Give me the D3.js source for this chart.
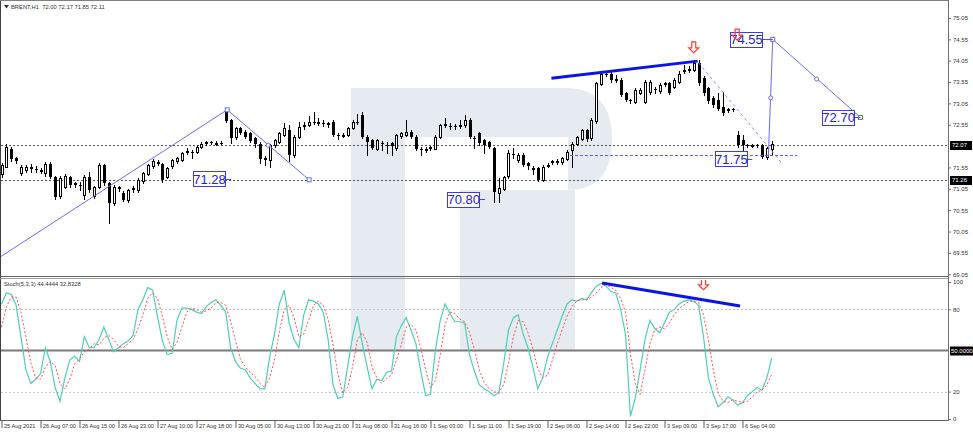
<!DOCTYPE html>
<html><head><meta charset="utf-8">
<script src="https://cdn.jsdelivr.net/npm/d3@7"></script>
<style>
html,body{margin:0;padding:0;background:#fff;}
svg{display:block;font-family:"Liberation Sans",Arial,sans-serif;}
</style>
</head><body>
<svg id="c" width="973" height="436"></svg>
<script>
// ---------- DATA ----------
const symbolTitle = "BRENT,H1  72.00 72.17 71.85 72.11";
const stochTitle = "Stoch(5,3,3) 44.4444 32.8328";
const opens = [71.40,71.58,71.98,71.76,71.42,71.49,71.53,71.52,71.50,71.40,
71.64,71.33,70.87,71.10,71.32,71.16,71.15,70.90,71.33,70.88,
71.10,71.61,71.18,70.72,71.07,70.95,70.79,71.04,71.02,71.22,
71.41,71.57,71.66,71.63,71.33,71.57,71.70,71.72,71.90,71.91,
71.92,72.04,72.13,72.14,72.12,72.13,72.86,72.66,72.27,72.47,
72.39,72.35,72.23,72.11,71.76,71.72,72.08,72.15,72.31,72.43,
71.84,72.27,72.52,72.55,72.62,72.60,72.60,72.56,72.62,72.32,
72.31,72.31,72.47,72.61,72.78,72.27,72.19,71.98,72.12,72.08,
72.12,72.00,72.27,72.31,72.39,72.27,71.98,71.97,72.04,72.00,
72.27,72.55,72.52,72.51,72.53,72.54,72.66,72.24,72.35,72.19,
72.15,72.00,70.94,71.06,71.33,71.86,71.72,71.84,71.65,71.53,
71.53,71.26,71.58,71.66,71.70,71.66,71.76,71.96,72.11,72.23,
72.43,72.23,72.62,73.52,73.75,73.75,73.60,73.60,73.29,73.12,
73.09,73.29,73.09,73.33,73.38,73.33,73.52,73.52,73.44,73.56,
73.80,73.83,73.83,73.99,73.64,73.40,73.17,73.13,72.97,72.88,
72.91,72.31,72.19,72.07,72.06,72.07,72.07,71.80,72.00];
const highs = [71.66,72.10,72.02,71.80,71.60,71.60,71.62,71.58,71.54,71.68,
71.68,71.36,71.34,71.40,71.36,71.22,71.20,71.37,71.45,71.12,
71.66,71.64,71.22,71.14,71.12,71.00,71.04,71.12,71.30,71.44,
71.64,71.74,71.72,71.66,71.56,71.75,71.80,71.92,72.00,71.96,
72.08,72.14,72.18,72.17,72.16,72.16,72.90,72.68,72.50,72.50,
72.42,72.38,72.26,72.14,71.82,72.10,72.22,72.38,72.60,72.55,
72.30,72.62,72.62,72.75,72.86,72.70,72.66,72.62,72.66,72.36,
72.36,72.50,72.66,72.80,72.85,72.30,72.22,72.22,72.16,72.15,
72.14,72.34,72.38,72.65,72.42,72.30,72.02,72.02,72.06,72.30,
72.57,72.70,72.58,72.56,72.65,72.78,72.70,72.28,72.38,72.22,
72.18,72.04,71.30,71.36,71.95,72.00,71.88,71.88,71.68,71.58,
71.56,71.60,71.66,71.72,71.74,71.80,71.96,72.14,72.29,72.45,
72.46,72.70,73.56,73.80,73.80,73.79,73.72,73.64,73.32,73.16,
73.40,73.40,73.60,73.60,73.44,73.52,73.56,73.56,73.64,73.80,
73.95,73.92,74.07,74.07,73.68,73.44,73.22,73.30,73.32,72.95,
72.94,72.40,72.30,72.10,72.09,72.09,72.10,72.02,72.17];
const lows = [71.33,71.55,71.70,71.66,71.38,71.45,71.45,71.45,71.42,71.36,
71.30,70.82,70.84,71.06,71.10,71.10,71.02,70.80,70.98,70.84,
71.06,71.15,70.24,70.68,71.00,70.76,70.75,70.98,70.98,71.18,
71.38,71.54,71.60,71.22,71.30,71.54,71.66,71.70,71.86,71.76,
71.90,72.00,72.08,72.10,72.08,72.10,72.62,72.12,72.22,72.34,
72.24,72.14,72.04,71.66,71.60,71.55,72.04,72.12,72.28,71.70,
71.80,72.24,72.46,72.52,72.56,72.55,72.52,72.50,72.28,72.22,
72.26,72.28,72.44,72.56,72.24,71.84,71.98,71.95,71.95,71.90,
71.84,71.97,72.24,72.28,72.24,71.96,71.85,71.92,71.96,71.98,
72.24,72.50,72.45,72.46,72.48,72.50,72.24,72.00,72.08,71.90,
72.00,70.75,70.75,71.02,71.30,71.78,71.68,71.58,71.52,71.40,
71.24,71.24,71.55,71.62,71.62,71.62,71.72,71.55,72.08,72.20,
72.18,72.20,72.58,73.48,73.68,73.56,73.55,73.22,73.10,73.06,
73.06,73.26,73.05,73.28,73.30,73.30,73.45,73.26,73.40,73.53,
73.76,73.78,73.80,73.48,73.25,73.05,72.97,72.90,72.78,72.85,
72.88,72.04,71.85,72.04,72.03,72.02,71.78,71.75,71.85];
const closes = [71.61,72.04,71.74,71.70,71.57,71.57,71.55,71.50,71.46,71.62,
71.33,70.86,71.30,71.36,71.14,71.18,71.12,71.33,71.02,71.10,
71.61,71.18,70.71,71.10,71.10,70.79,71.02,71.07,71.26,71.41,
71.61,71.69,71.68,71.26,71.53,71.72,71.76,71.88,71.93,71.89,
72.04,72.11,72.14,72.12,72.13,72.12,72.66,72.23,72.47,72.36,
72.27,72.16,72.08,71.76,71.78,72.08,72.19,72.35,72.47,71.84,
72.27,72.50,72.55,72.62,72.60,72.61,72.57,72.58,72.31,72.30,
72.32,72.47,72.62,72.60,72.27,72.15,72.00,72.19,72.10,72.06,
72.04,72.31,72.35,72.39,72.27,72.00,71.97,71.98,72.00,72.27,
72.54,72.56,72.50,72.50,72.55,72.66,72.27,72.23,72.11,72.08,
72.04,70.98,71.06,71.33,71.88,71.84,71.84,71.61,71.57,71.49,
71.26,71.57,71.61,71.69,71.66,71.76,71.92,72.11,72.27,72.43,
72.23,72.66,73.52,73.75,73.74,73.60,73.61,73.25,73.13,73.09,
73.36,73.36,73.56,73.56,73.36,73.48,73.48,73.29,73.60,73.75,
73.83,73.86,73.99,73.52,73.29,73.09,73.01,72.93,72.82,72.91,
72.90,72.07,72.07,72.06,72.07,72.05,71.80,72.00,72.11];
const stochK = [84,92,91,83,60,36,26,29,33,52,
42,23,13,30,43,46,42,60,52,52,
58,67,58,49,52,55,57,61,80,87,
96,94,75,57,47,48,72,81,81,80,
78,77,82,85,87,83,78,52,42,37,
36,30,26,22,22,45,62,84,94,70,
58,52,76,87,86,84,78,58,25,15,
16,38,60,75,55,38,22,29,28,34,
35,60,68,74,65,55,35,17,18,50,
72,84,77,71,71,70,47,35,25,22,
20,17,19,40,65,74,76,62,52,38,
22,30,45,55,65,75,84,87,86,88,
87,92,97,99,97,93,92,80,62,2,
15,36,58,72,66,63,70,78,80,84,
86,87,86,83,60,30,18,9,12,16,
14,10,12,17,20,23,21,30,44.4444];
const stochD = [67,82,89,89,78,60,41,30,29,38,
42,39,26,22,29,40,44,49,51,55,
54,59,61,58,53,52,55,58,66,76,
88,92,88,75,60,51,56,67,78,81,
80,78,79,81,85,85,83,71,57,44,
38,34,31,26,23,30,43,64,80,83,
74,60,62,72,83,86,83,73,54,33,
19,23,38,58,63,56,38,30,26,30,
32,43,54,67,69,65,52,36,23,28,
47,69,78,77,73,71,63,51,36,27,
22,20,19,25,41,60,72,71,63,51,
37,30,32,43,55,65,75,82,86,87,
87,89,92,96,98,96,94,88,78,48,
26,18,36,55,65,67,66,70,76,81,
83,86,86,85,76,58,36,19,13,12,
14,13,12,13,16,20,21,25,32.8328];
const timeLabels = ["25 Aug 2021","26 Aug 07:00","26 Aug 15:00","26 Aug 23:00","27 Aug 10:00","27 Aug 18:00",
"30 Aug 05:00","30 Aug 13:00","30 Aug 21:00","31 Aug 08:00","31 Aug 16:00","1 Sep 03:00","1 Sep 11:00",
"1 Sep 19:00","2 Sep 06:00","2 Sep 14:00","2 Sep 22:00","3 Sep 09:00","3 Sep 17:00","6 Sep 04:00"];
const labelBars = [0,8,16,24,32,40,48,56,64,72,80,88,96,104,112,120,128,136,144,152];
const priceTicks = [75.05,74.55,74.05,73.55,73.05,72.55,71.55,71.05,70.55,70.05,69.55,69.05];
const markedPrices = [72.07, 71.26];
const stochTicks = [100,80,20,0];
const stochLevels = [80,20];
// analysis drawings (bar index, price)
const waveA = [[-1,69.40],[46.3,72.90],[54.7,72.07],[63.1,71.26]];
const waveB = [[157.3,71.80],[157.8,73.18],[158.2,74.55],[167.2,73.62],[176.2,72.72]];
const trendPrice = [[112.8,73.64],[142.8,74.04]];
const trendStoch = [[123.2,99.3],[151.5,82.5]];
const dottedSlope = [[143,74.00],[160,71.66]];
const levelLine = {from:116.6, to:163.2, price:71.84};
// label boxes: right edge at bar, centred on price, tick runs to pixel column
const boxLabels = [
  {text:"71.28", bar:45.85, price:71.28, tickBar:47.1},
  {text:"70.80", bar:98.0, price:70.81, tickBar:99.2},
  {text:"71.75", bar:152.9, price:71.75, tickBar:154.0},
  {text:"74.55", bar:156.0, price:74.55, tickBar:158.2},
  {text:"72.70", bar:174.9, price:72.72, tickBar:176.2}
];
const priceArrows = [[142,74.35],[150.9,74.65]];
const stochArrows = [[144,98]];

// ---------- SCALES ----------
const svg = d3.select("#c");
const RIGHT = 948;
const x = d3.scaleLinear().domain([0,158]).range([1.5, 1.5+158*4.875]);
const y = d3.scaleLinear().domain([69.05,75.05]).range([274.2,18]);
const ys = d3.scaleLinear().domain([0,100]).range([419,282]);

const defs = svg.append("defs");
defs.append("clipPath").attr("id","cp").append("rect").attr("x",1).attr("y",1).attr("width",RIGHT-1).attr("height",275);
defs.append("clipPath").attr("id","cs").append("rect").attr("x",1).attr("y",280).attr("width",RIGHT-1).attr("height",140);
defs.append("clipPath").attr("id","call").append("rect").attr("x",1).attr("y",1).attr("width",RIGHT-1).attr("height",419);

// ---------- WATERMARK ----------
const wm = svg.append("g").attr("clip-path","url(#call)").attr("fill","#e6ebf2");
wm.append("rect").attr("x",351).attr("y",88).attr("width",54).attr("height",262);
wm.append("path").attr("fill-rule","evenodd")
  .attr("d","M405,88 H565 Q612,88 612,139 Q612,190 568,190 H405 Z M405,137 H568 V190 H405 Z");
wm.append("rect").attr("x",460).attr("y",190).attr("width",115).attr("height",160);

// ---------- GRID / LEVELS ----------
const gp = svg.append("g").attr("clip-path","url(#cp)");
gp.selectAll("line.lvl").data(markedPrices).join("line")
  .attr("x1",1).attr("x2",RIGHT).attr("y1",d=>Math.round(y(d))+0.5).attr("y2",d=>Math.round(y(d))+0.5)
  .attr("stroke","#555").attr("stroke-dasharray","2,2");

// ---------- CANDLES ----------
const idx = d3.range(opens.length);
const cx = i => Math.round(x(i));
gp.selectAll("line.wick").data(idx).join("line")
  .attr("x1",i=>cx(i)+0.5).attr("x2",i=>cx(i)+0.5)
  .attr("y1",i=>Math.round(y(highs[i]))).attr("y2",i=>Math.round(y(lows[i]))+1)
  .attr("stroke","#000");
gp.selectAll("rect.body").data(idx).join("rect")
  .attr("x",i=> closes[i]>=opens[i] ? cx(i)-0.5 : cx(i)-1)
  .attr("width",i=> closes[i]>=opens[i] ? 2 : 3)
  .attr("y",i=>{const t=Math.round(y(Math.max(opens[i],closes[i]))); return closes[i]>=opens[i]? t+0.5 : t;})
  .attr("height",i=>Math.max(1,Math.round(Math.abs(y(opens[i])-y(closes[i])))))
  .attr("fill",i=> closes[i]>=opens[i] ? "#fff" : "#000")
  .attr("stroke",i=> closes[i]>=opens[i] ? "#000" : "none");

// ---------- ANALYSIS DRAWINGS (price) ----------
const line = d3.line().x(d=>x(d[0])).y(d=>y(d[1]));
const waveCol = "#6b6bf5";
gp.append("path").attr("d",line([waveA[0],waveA[1],waveA[3]])).attr("fill","none").attr("stroke",waveCol);
gp.append("path").attr("d",line([waveB[0],waveB[2],waveB[4]])).attr("fill","none").attr("stroke",waveCol);
function sq(p){ gp.append("rect").attr("x",x(p[0])-2).attr("y",y(p[1])-2).attr("width",4).attr("height",4).attr("fill","#fff").attr("stroke",waveCol);}
function circ(p){ gp.append("circle").attr("cx",x(p[0])).attr("cy",y(p[1])).attr("r",2).attr("fill","#fff").attr("stroke",waveCol);}
sq(waveA[1]); circ(waveA[2]); sq(waveA[3]);
circ(waveB[1]); sq(waveB[2]); circ(waveB[3]); sq(waveB[4]);

gp.append("path").attr("d",line(dottedSlope)).attr("stroke","#8a8af5").attr("stroke-dasharray","3,3").attr("fill","none");
gp.append("line").attr("x1",x(levelLine.from)).attr("x2",x(levelLine.to))
  .attr("y1",Math.round(y(levelLine.price))+0.5).attr("y2",Math.round(y(levelLine.price))+0.5)
  .attr("stroke","#5b5bf0").attr("stroke-dasharray","3,2");
gp.append("path").attr("d",line(trendPrice)).attr("stroke","#0a14e6").attr("stroke-width",3).attr("fill","none");

boxLabels.forEach(b=>{
  const bx = x(b.bar), by = y(b.price);
  const w = 32, h = 15;
  gp.append("line").attr("x1",bx).attr("x2",x(b.tickBar)).attr("y1",Math.round(by)+0.5).attr("y2",Math.round(by)+0.5).attr("stroke","#4a4af0");
  gp.append("rect").attr("x",Math.round(bx-w)+0.5).attr("y",Math.round(by-h/2)+0.5).attr("width",w).attr("height",h)
    .attr("fill","#fff").attr("stroke","#3a3af5");
  gp.append("text").attr("x",bx-w/2+0.5).attr("y",by+4.8).attr("text-anchor","middle")
    .attr("font-size",13).attr("fill","#2020f0").text(b.text);
});

function arrow(g, px, py){
  const p = `M${px-2},${py-6} h4 v6 h3 l-5,5 l-5,-5 h3 Z`;
  g.append("path").attr("d",p).attr("fill","none").attr("stroke","#ff3b2f").attr("stroke-width",1.2);
}
priceArrows.forEach(a=>arrow(gp, x(a[0]), y(a[1])));

// ---------- STOCHASTIC ----------
const gs = svg.append("g").attr("clip-path","url(#cs)");
gs.selectAll("line.sl").data(stochLevels).join("line")
  .attr("x1",1).attr("x2",RIGHT).attr("y1",d=>Math.round(ys(d))+0.5).attr("y2",d=>Math.round(ys(d))+0.5)
  .attr("stroke","#c8c8c8").attr("stroke-dasharray","2,2");
gs.append("line").attr("x1",1).attr("x2",RIGHT).attr("y1",ys(50)).attr("y2",ys(50)).attr("stroke","#7a7a7a").attr("stroke-width",2);
const sline = d3.line().x((d,i)=>x(i)).y(d=>ys(d));
gs.append("path").attr("d",sline(stochK)).attr("fill","none").attr("stroke","#4fcfb5").attr("stroke-width",1.2);
gs.append("path").attr("d",sline(stochD)).attr("fill","none").attr("stroke","#ff5050").attr("stroke-width",1).attr("stroke-dasharray","2,2");
gs.append("path").attr("d",d3.line().x(d=>x(d[0])).y(d=>ys(d[1]))(trendStoch)).attr("stroke","#0a14e6").attr("stroke-width",3).attr("fill","none");
stochArrows.forEach(a=>arrow(gs, x(a[0]), ys(a[1])));

// ---------- FRAMES ----------
const frame = svg.append("g").attr("fill","none").attr("stroke","#808080");
frame.append("line").attr("x1",0.5).attr("x2",0.5).attr("y1",0).attr("y2",421).attr("stroke","#404040");
frame.append("line").attr("x1",0).attr("x2",RIGHT).attr("y1",0.5).attr("y2",0.5);
frame.append("line").attr("x1",0).attr("x2",RIGHT+1).attr("y1",276.5).attr("y2",276.5).attr("stroke","#606060");
frame.append("line").attr("x1",0).attr("x2",RIGHT+1).attr("y1",278.5).attr("y2",278.5).attr("stroke","#a0a0a0");
frame.append("line").attr("x1",0).attr("x2",RIGHT+1).attr("y1",420.5).attr("y2",420.5).attr("stroke","#606060");
frame.append("line").attr("x1",RIGHT+0.5).attr("x2",RIGHT+0.5).attr("y1",0).attr("y2",421).attr("stroke","#707070");

// ---------- AXES ----------
const axisFont = 5.6;
const gy = svg.append("g").attr("transform",`translate(${RIGHT+1},0)`)
  .call(d3.axisRight(y).tickValues(priceTicks).tickFormat(d3.format(".2f")).tickSize(2).tickPadding(2));
gy.select(".domain").remove();
gy.selectAll("line").attr("stroke","#707070");
gy.selectAll("text").attr("font-size",axisFont+0.4).attr("fill","#333");

markedPrices.forEach(p=>{
  const yy = Math.round(y(p));
  svg.append("rect").attr("x",RIGHT+2).attr("y",yy-4).attr("width",22).attr("height",9).attr("fill","#000");
  svg.append("text").attr("x",RIGHT+4).attr("y",yy+2.3).attr("font-size",6).attr("fill","#fff").text(p.toFixed(2));
});

const gys = svg.append("g").attr("transform",`translate(${RIGHT+1},0)`)
  .call(d3.axisRight(ys).tickValues(stochTicks).tickFormat(d3.format("d")).tickSize(2).tickPadding(2));
gys.select(".domain").remove();
gys.selectAll("line").attr("stroke","#707070");
gys.selectAll("text").attr("font-size",axisFont+0.4).attr("fill","#333");
svg.append("rect").attr("x",RIGHT+2).attr("y",ys(50)-4).attr("width",25).attr("height",9).attr("fill","#000");
svg.append("text").attr("x",RIGHT+3).attr("y",ys(50)+2.3).attr("font-size",6).attr("fill","#fff").text("50.0000");

const gx = svg.append("g").attr("transform","translate(0,421)")
  .call(d3.axisBottom(x).tickValues(labelBars).tickFormat((d,i)=>timeLabels[i]).tickSize(7).tickPadding(0));
gx.select(".domain").remove();
gx.selectAll("line").attr("stroke","#606060");
gx.selectAll("text").attr("text-anchor","start").attr("x",2).attr("y",3.5).attr("font-size",axisFont).attr("fill","#333");

// ---------- TITLES ----------
svg.append("path").attr("d","M4,5 h5 l-2.5,3.5 Z").attr("fill","#333");
svg.append("text").attr("x",11).attr("y",9).attr("font-size",5.8).attr("fill","#333").attr("xml:space","preserve").text(symbolTitle);
svg.append("text").attr("x",4).attr("y",286).attr("font-size",5.8).attr("fill","#333").text(stochTitle);
</script>
</body></html>
